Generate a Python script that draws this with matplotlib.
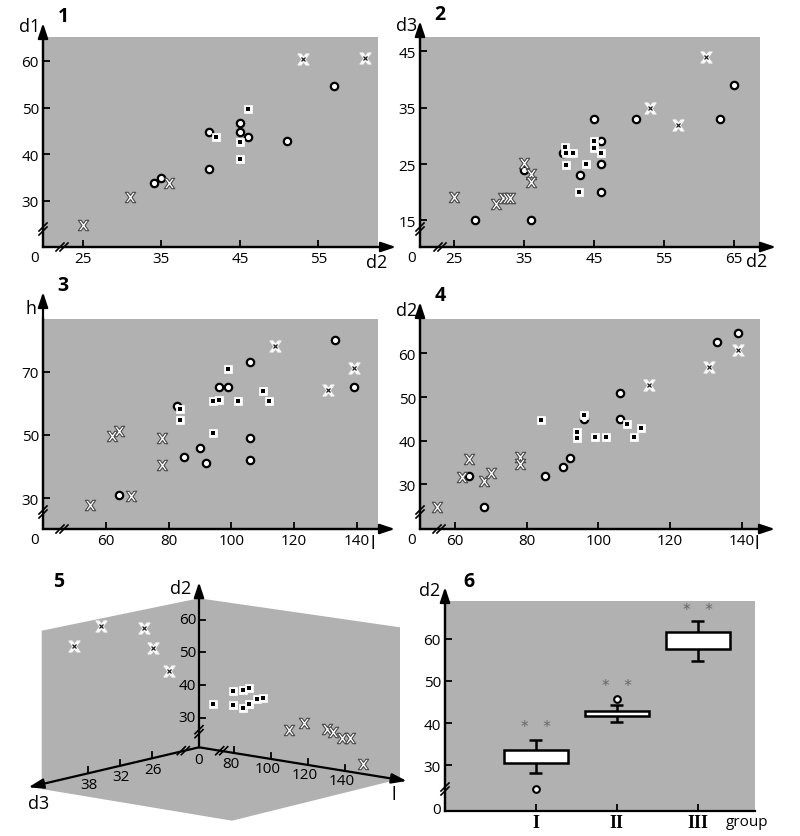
import numpy as np
import matplotlib
matplotlib.use('Agg')
import matplotlib.pyplot as plt
from matplotlib.path import Path
from matplotlib.patches import Polygon

plt.rcParams['font.family'] = ['Open Sans', 'DejaVu Sans']

# ---------------- data ----------------
# panel 1: d2 (x) vs d1 (y)
p1_circ_x = [34, 35, 41, 41, 45, 45, 46, 51, 57]
p1_circ_y = [33.9, 34.9, 36.8, 44.8, 46.7, 44.7, 43.8, 42.8, 54.6]
p1_sq_x = [42, 45, 45, 46]
p1_sq_y = [43.6, 42.6, 38.9, 49.6]
p1_xg_x = [25, 31, 36]
p1_xg_y = [24.9, 30.9, 33.8]
p1_xw_x = [53, 61]
p1_xw_y = [60.4, 60.5]

# panel 2: d2 (x) vs d3 (y)
p2_circ_x = [28, 35, 36, 40.5, 43, 45, 46, 46, 46, 51, 63, 65]
p2_circ_y = [15, 24, 15, 27, 23, 33, 29.1, 25, 20, 33, 33, 39]
p2_sq_x = [40.8, 41, 40.9, 42, 43.8, 42.8, 45, 45, 46]
p2_sq_y = [28, 27, 24.9, 27, 25, 20, 29.1, 27.9, 27]
p2_xg_x = [25, 31, 32, 32.5, 33, 35, 36, 36]
p2_xg_y = [19.1, 18, 19, 19, 19, 25.2, 23.2, 21.9]
p2_xw_x = [53, 57, 61]
p2_xw_y = [35, 32, 43.9]

# panel 3: l (x) vs h (y)
p3_circ_x = [64, 82.7, 85, 90, 92, 96, 99, 106, 106, 106, 133, 139]
p3_circ_y = [31, 59.2, 43, 46, 41, 65, 65, 73, 49, 42, 80, 65]
p3_sq_x = [83.7, 83.7, 94, 96, 99, 94, 102, 110, 112]
p3_sq_y = [58.2, 54.6, 60.8, 60.9, 70.7, 50.5, 60.8, 64, 60.8]
p3_xg_x = [55, 62, 64, 68, 78, 78]
p3_xg_y = [27.8, 49.8, 51.2, 30.8, 49, 40.6]
p3_xw_x = [114, 131, 139]
p3_xw_y = [78, 64.1, 71]

# panel 4: l (x) vs d2 (y)
p4_circ_x = [64, 68, 85, 90, 92, 96, 106, 106, 133, 139]
p4_circ_y = [32, 24.9, 32, 33.9, 36, 44.9, 51, 44.9, 62.7, 64.8]
p4_sq_x = [84, 94, 94, 96, 99, 102, 108, 110, 112]
p4_sq_y = [44.8, 42.1, 40.6, 45.9, 40.8, 40.8, 43.8, 40.8, 42.9]
p4_xg_x = [55, 62, 64, 68, 70, 78, 78]
p4_xg_y = [24.9, 31.8, 35.9, 30.9, 32.7, 36.3, 34.7]
p4_xw_x = [114, 131, 139]
p4_xw_y = [52.8, 56.9, 60.9]

# panel 5: (l, d2, d3)
p5_xw_l = [61, 61, 61, 61, 61]
p5_xw_d2 = [60.8, 65.1, 61.4, 54.6, 46.6]
p5_xw_d3 = [40.5, 35.5, 27.5, 25.8, 22.7]
p5_sq_l = [68.4, 79.2, 79.5, 84.9, 88.0, 87.9, 84.9, 92.2, 95.4]
p5_sq_d2 = [34.9, 40.0, 35.6, 40.7, 41.6, 36.8, 35.2, 38.6, 39.3]
p5_sq_d3 = [17.1] * 9
p5_xg_l = [109.5, 117.8, 130.0, 133.6, 138.1, 142.6, 149.5]
p5_xg_d2 = [30.7, 33.6, 32.9, 32.4, 30.9, 31.3, 24.0]
p5_xg_d3 = [17.1] * 7
p5_l_ticks = [80, 100, 120, 140]
p5_d2_ticks = [30, 40, 50, 60]
p5_d3_ticks = [26, 32, 38]

# panel 6: box plot of d2 by group
groups = ['I', 'II', 'III']
box_q1 = [30.6, 41.8, 57.5]
box_q3 = [33.6, 42.9, 61.6]
whisk_lo = [28.3, 40.3, 54.6]
whisk_hi = [35.9, 44.3, 64.1]
outlier_pos = [1, 2]
outlier_val = [24.4, 45.7]
star_y = [39.1, 48.8, 66.9]

# ---------------- drawing ----------------
W, H = 800, 837
GRAY = '#b1b1b1'
# outlined "X" with flat ends
XMARK = Path([(-1, 1), (-0.45, 1), (0, 0.4), (0.45, 1), (1, 1), (0.3, 0),
              (1, -1), (0.45, -1), (0, -0.4), (-0.45, -1), (-1, -1), (-0.3, 0), (-1, 1)],
             [Path.MOVETO] + [Path.LINETO] * 11 + [Path.CLOSEPOLY])

fig = plt.figure(figsize=(W / 100, H / 100), dpi=100)


def make_panel(left, top, right, bottom, xlim, ylim, xticks, yticks):
    ax = fig.add_axes([left / W, 1 - bottom / H, (right - left) / W, (bottom - top) / H])
    ax.set_facecolor(GRAY)
    ax.set_xlim(xlim)
    ax.set_ylim(ylim)
    for s in ['top', 'right']:
        ax.spines[s].set_visible(False)
    for s in ['left', 'bottom']:
        ax.spines[s].set_linewidth(1.6)
    ax.set_xticks(xticks)
    ax.set_yticks(yticks)
    ax.tick_params(direction='in', length=5, width=1.3, labelsize=11, pad=3)
    return ax


def draw_circles(ax, x, y, **kw):
    ax.plot(x, y, ls='none', marker='o', ms=5.3, mfc='white', mec='black', mew=1.6, zorder=3, **kw)


def draw_squares(ax, x, y, **kw):
    ax.plot(x, y, ls='none', marker='s', ms=6, mfc='white', mec='white', mew=0.5, zorder=4, **kw)
    ax.plot(x, y, ls='none', marker='s', ms=2.5, mfc='black', mec='black', mew=0, zorder=5, **kw)


def draw_xgray(ax, x, y, **kw):
    ax.plot(x, y, ls='none', marker=XMARK, ms=7.5, mfc='white', mec='#4a4a4a', mew=0.8, zorder=6, **kw)


def draw_xwhite(ax, x, y, **kw):
    ax.plot(x, y, ls='none', marker=XMARK, ms=8, mfc='white', mec='#f2f2f2', mew=0.8, zorder=6, **kw)
    ax.plot(x, y, ls='none', marker='x', ms=3, mec='#222222', mew=0.9, zorder=7, **kw)


def draw_all(ax, c, s, g, w):
    draw_circles(ax, *c)
    draw_squares(ax, *s)
    draw_xgray(ax, *g)
    draw_xwhite(ax, *w)


ax1 = make_panel(43, 38, 378, 248, (19.9, 62.6), (20.15, 65.1), [25, 35, 45, 55], [30, 40, 50, 60])
draw_all(ax1, (p1_circ_x, p1_circ_y), (p1_sq_x, p1_sq_y), (p1_xg_x, p1_xg_y), (p1_xw_x, p1_xw_y))

ax2 = make_panel(420, 38, 760, 248, (20.1, 68.7), (10.3, 47.5), [25, 35, 45, 55, 65], [15, 25, 35, 45])
draw_all(ax2, (p2_circ_x, p2_circ_y), (p2_sq_x, p2_sq_y), (p2_xg_x, p2_xg_y), (p2_xw_x, p2_xw_y))

ax3 = make_panel(43, 320, 378, 530, (39.9, 146.8), (20.3, 86.6), [60, 80, 100, 120, 140], [30, 50, 70])
draw_all(ax3, (p3_circ_x, p3_circ_y), (p3_sq_x, p3_sq_y), (p3_xg_x, p3_xg_y), (p3_xw_x, p3_xw_y))

ax4 = make_panel(420, 320, 760, 530, (50.2, 145.1), (19.8, 67.9), [60, 80, 100, 120, 140], [30, 40, 50, 60])
draw_all(ax4, (p4_circ_x, p4_circ_y), (p4_sq_x, p4_sq_y), (p4_xg_x, p4_xg_y), (p4_xw_x, p4_xw_y))

# panel 6 box plot
pos = np.arange(1, len(groups) + 1)
ax6 = make_panel(445, 602, 755, 812, (-0.123, 3.71), (19.2, 68.9), pos, [30, 40, 50, 60])
ax6.set_xticklabels(groups, family='Liberation Serif', fontweight='bold', fontsize=13)
ax6.tick_params(axis='x', pad=2)
lo, hi = np.array(box_q1), np.array(box_q3)
ax6.vlines(pos, whisk_lo, whisk_hi, color='black', lw=1.8, zorder=2)
ax6.hlines(whisk_lo, pos - 0.08, pos + 0.08, color='black', lw=1.8, zorder=2)
ax6.hlines(whisk_hi, pos - 0.08, pos + 0.08, color='black', lw=1.8, zorder=2)
ax6.bar(pos, hi - lo, bottom=lo, width=0.79, color='white', edgecolor='black', lw=1.8, zorder=3)
ax6.plot(outlier_pos, outlier_val, ls='none', marker='o', ms=4.8, mfc='white', mec='black', mew=1.5, zorder=4)
for p, sy in zip(pos, star_y):
    ax6.text(p, sy, '*   *', ha='center', va='center', fontsize=11, color='#666666', family='DejaVu Sans')

# overlay in pixel coordinates for arrows, labels and the pseudo-3D panel
ov = fig.add_axes([0, 0, 1, 1])
ov.set_xlim(0, W)
ov.set_ylim(H, 0)
ov.axis('off')
ov.set_zorder(10)
ov.patch.set_alpha(0)


def arrow(x0, y0, x1, y1):
    ov.annotate('', xy=(x1, y1), xytext=(x0, y0),
                arrowprops=dict(arrowstyle='-|>,head_length=0.9,head_width=0.3',
                                color='black', lw=1.6, shrinkA=0, shrinkB=0))


def brk(x, y, horiz):
    for d in (-2, 2):
        if horiz:
            ov.plot([x + d - 4, x + d + 4], [y + 4, y - 4], color='black', lw=1.2)
        else:
            ov.plot([x - 4, x + 4], [y + d + 4, y + d - 4], color='black', lw=1.2)


def txt(x, y, s, size=12, **kw):
    ov.text(x, y, s, ha='center', va='center', fontsize=size, **kw)


# panel frames
for (l, t, r, b, ytip, xtip, xb, yb, num, ylab, xlab, ylpos, xlpos) in [
    (43, 38, 378, 248, 24, 396, 62, 230, '1', 'd1', 'd2', (30, 27), (377, 263)),
    (420, 38, 760, 248, 22, 776, 440, 230, '2', 'd3', 'd2', (407, 26), (757, 262)),
    (43, 320, 378, 530, 293, 395, 62, 513, '3', 'h', 'l', (31, 309), (373, 544)),
    (420, 320, 760, 530, 303, 775, 439, 513, '4', 'd2', 'l', (407, 311), (757, 544)),
]:
    arrow(l, b, l, ytip)
    arrow(l, b, xtip, b)
    brk(xb, b, True)
    brk(l, yb, False)
    txt(l + 20, ytip - 7, num, size=14, fontweight='bold')
    txt(*ylpos, ylab, size=13)
    txt(*xlpos, xlab, size=13)
    txt(l - 8, b + 10, '0', size=11)

# panel 6 frame
arrow(445, 812, 445, 588)
brk(445, 790, False)
txt(469, 582, '6', size=14, fontweight='bold')
txt(430, 591, 'd2', size=13)
txt(437, 811, '0', size=11)
txt(747, 823, 'group', size=11)

# panel 5: oblique 3D projection
O = np.array([199.0, 748.3])
L0, D20, D30 = 61.0, 21.0, 17.1
U_L = np.array([1.85, 0.30])
U_D2 = np.array([0.0, -3.27])
U_D3 = np.array([-5.33, 1.25])


def proj(l, d2, d3):
    l, d2, d3 = (np.atleast_1d(np.asarray(v, float)) for v in (l, d2, d3))
    x = O[0] + (l - L0) * U_L[0] + (d2 - D20) * U_D2[0] + (d3 - D30) * U_D3[0]
    y = O[1] + (l - L0) * U_L[1] + (d2 - D20) * U_D2[1] + (d3 - D30) * U_D3[1]
    return x, y


ov.add_patch(Polygon([(41.7, 631.7), (199, 599.3), (400, 628.3), (400, 780),
                      (232, 821.7), (41.7, 790)], closed=True, fc=GRAY, ec='none', zorder=0))
ox, oy = proj(L0, D20, D30)
tx, ty = proj(L0, 71.5, D30)
arrow(ox[0], oy[0], tx[0], ty[0])
tx, ty = proj(173.3, D20, D30)
arrow(ox[0], oy[0], tx[0], ty[0])
tx, ty = proj(L0, D20, 49.1)
arrow(ox[0], oy[0], tx[0], ty[0])

for v in p5_d2_ticks:
    x, y = proj(L0, v, D30)
    ov.plot([x[0], x[0] + 6], [y[0], y[0]], color='black', lw=1.3)
    ov.text(x[0] - 3, y[0], str(v), ha='right', va='center', fontsize=11)
for v in p5_l_ticks:
    x, y = proj(v, D20, D30)
    ov.plot([x[0], x[0]], [y[0], y[0] - 6], color='black', lw=1.3)
    ov.text(x[0] - 3, y[0] + 10, str(v), ha='center', va='center', fontsize=11)
for v in p5_d3_ticks:
    x, y = proj(L0, D20, v)
    ov.plot([x[0], x[0]], [y[0], y[0] - 6], color='black', lw=1.3)
    ov.text(x[0] + 1, y[0] + 11, str(v), ha='center', va='center', fontsize=11)

brk(199, 732.7, False)
brk(221.7, 751.7, True)
brk(183.3, 751.7, True)
txt(199, 760, '0', size=11)
txt(59, 582, '5', size=14, fontweight='bold')
txt(181, 589, 'd2', size=13)
txt(39, 804, 'd3', size=13)
txt(394, 795, 'l', size=13)

draw_xwhite(ov, *proj(p5_xw_l, p5_xw_d2, p5_xw_d3))
draw_squares(ov, *proj(p5_sq_l, p5_sq_d2, p5_sq_d3))
draw_xgray(ov, *proj(p5_xg_l, p5_xg_d2, p5_xg_d3))

fig.savefig('out.png', dpi=100)
